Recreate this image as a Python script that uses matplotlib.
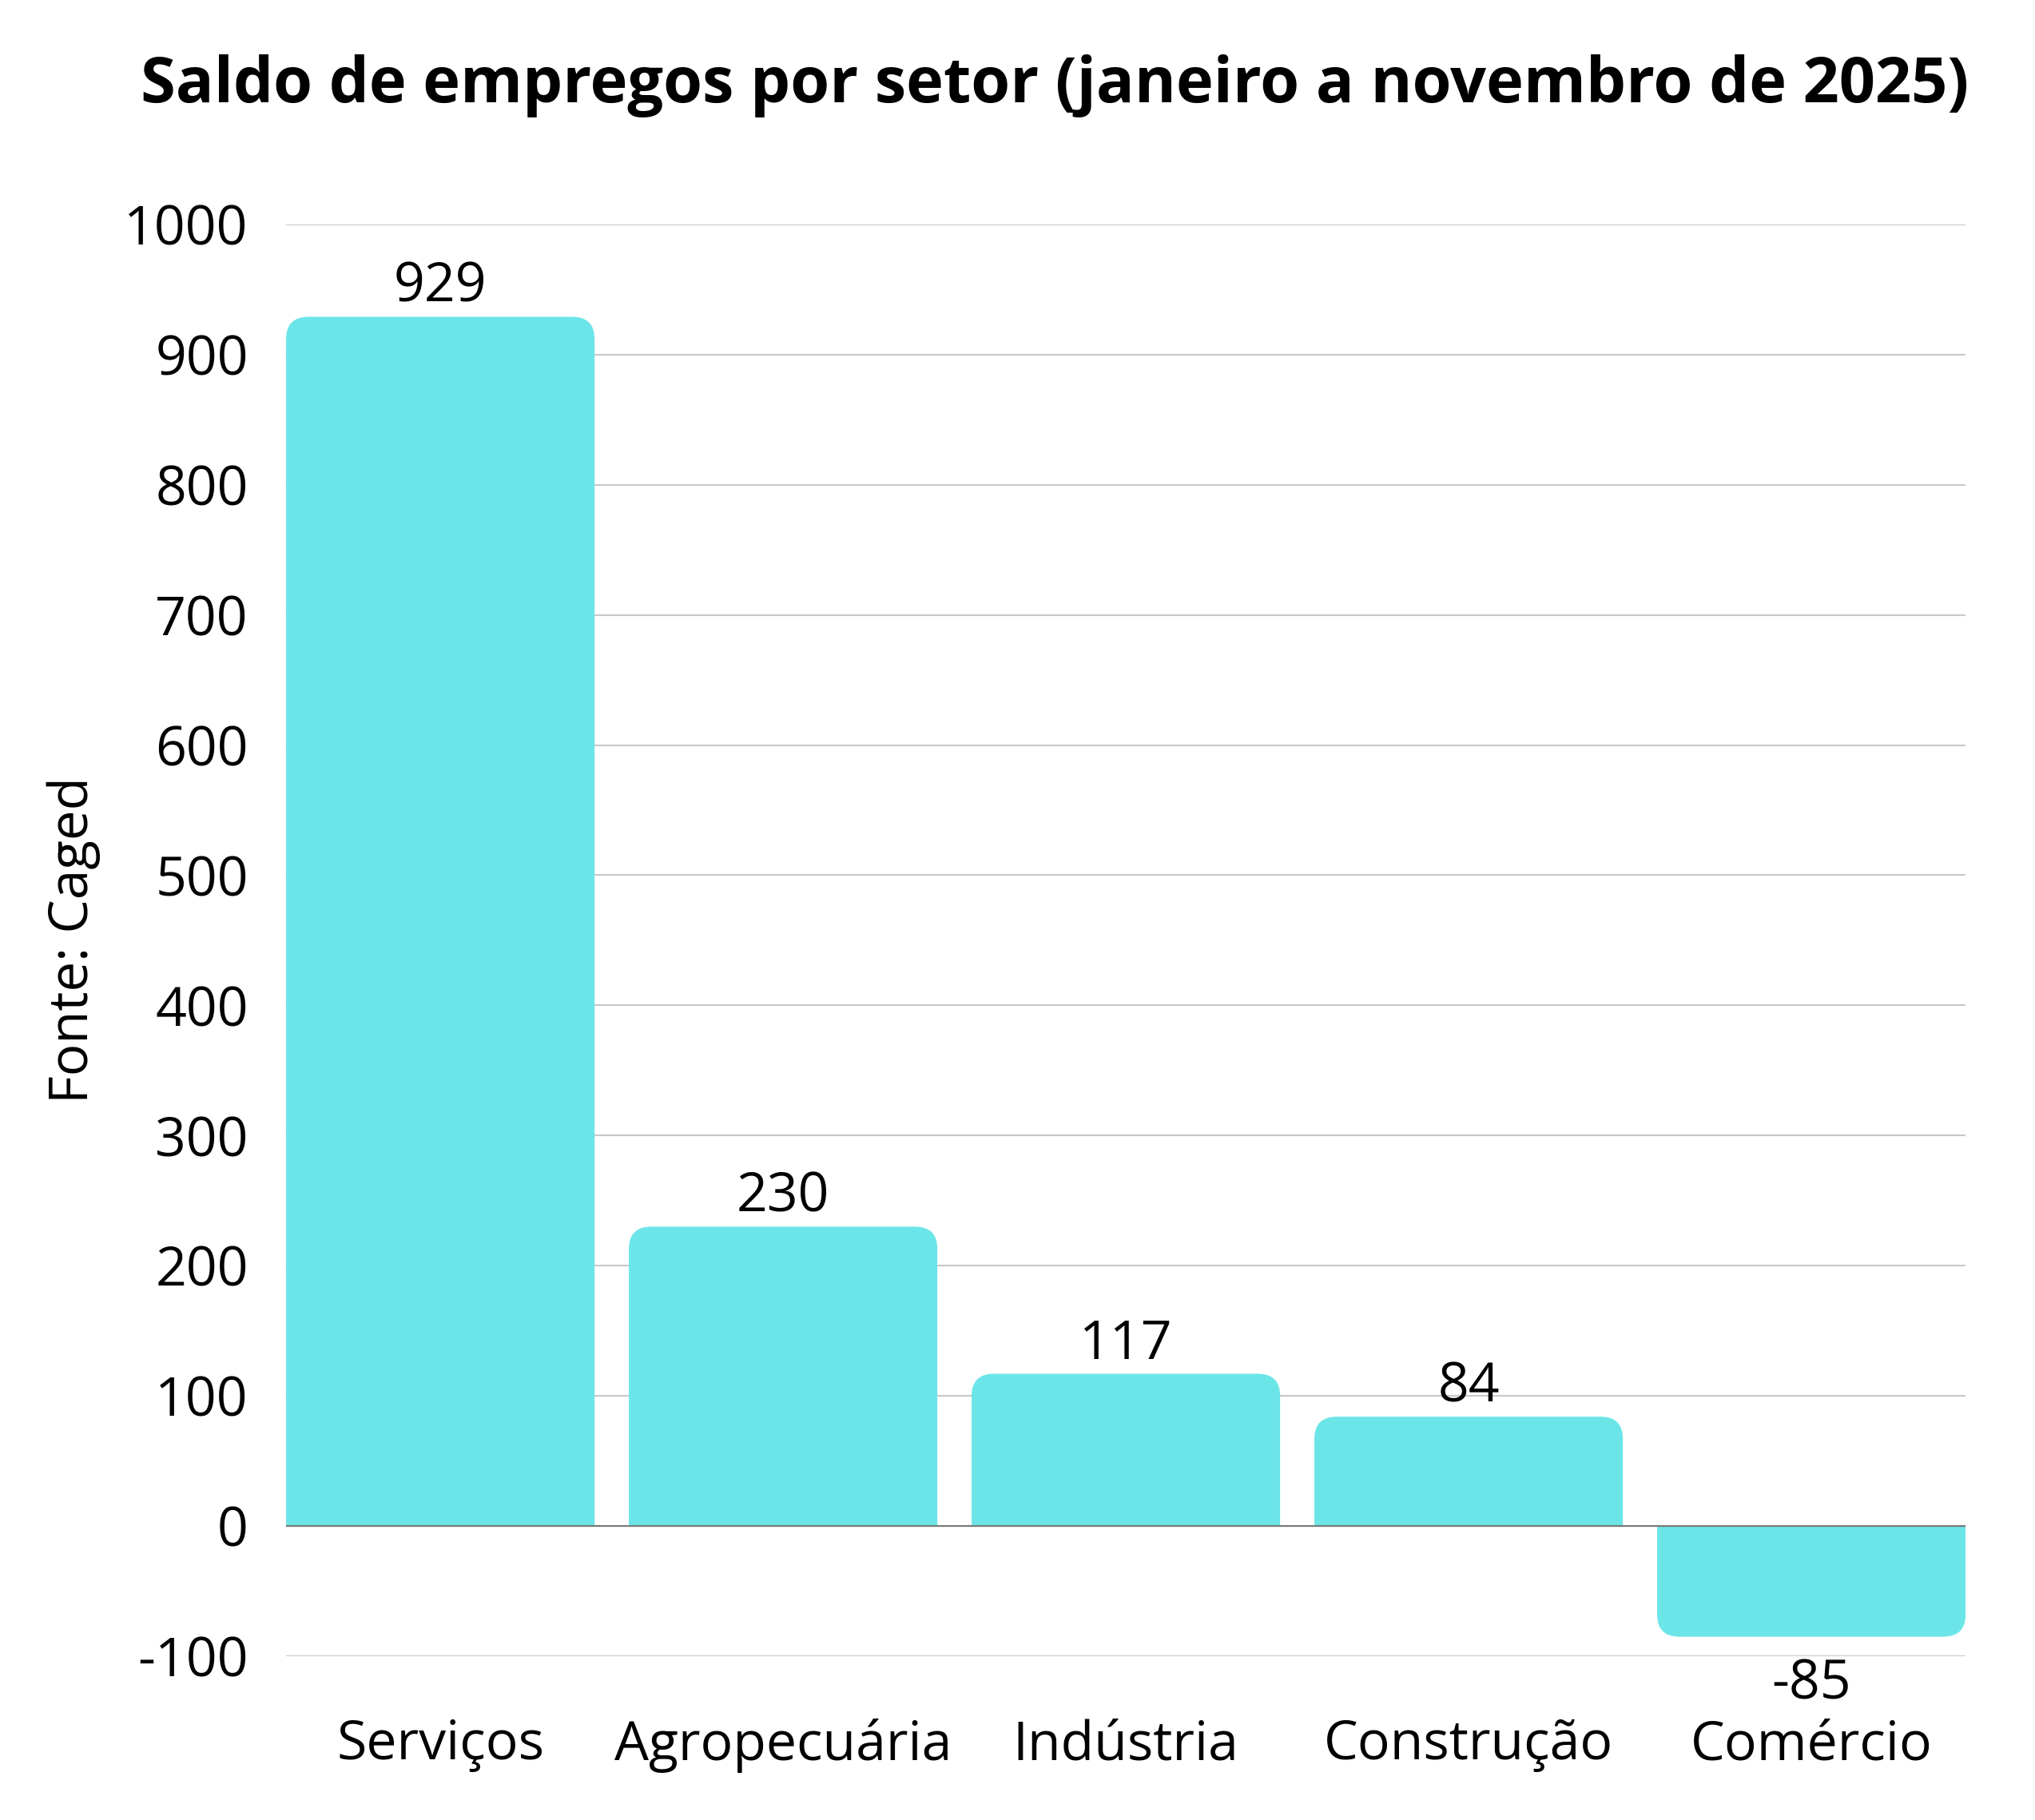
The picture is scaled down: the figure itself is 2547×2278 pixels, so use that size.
import numpy as np
import matplotlib
matplotlib.use("Agg")
import matplotlib.pyplot as plt
from matplotlib.path import Path
from matplotlib.patches import PathPatch

plt.rcParams['font.family'] = ['Open Sans', 'DejaVu Sans']
plt.rcParams['axes.unicode_minus'] = False

# Data
setores = ['Serviços', 'Agropecuária', 'Indústria', 'Construção', 'Comércio']
saldo = [929, 230, 117, 84, -85]
y_ticks = [-100, 0, 100, 200, 300, 400, 500, 600, 700, 800, 900, 1000]

BarColour = '#6ce5e8'
BarWidth = 0.9

fig = plt.figure(figsize=(25.47, 22.78), dpi=100)
ax = fig.add_axes([0.1406, 0.0900, 0.8253, 0.7867])

ax.set_xlim(-0.45, len(setores) - 0.55)
ax.set_ylim(-100, 1000)


# bar with rounded corners at its far end (top for positive, bottom for negative)
def rounded_bar(ax, xc, h, w, rx, ry):
    x0 = xc - w / 2
    x1 = xc + w / 2
    s = 1 if h >= 0 else -1
    verts = [(x0, 0), (x0, h - s * ry), (x0, h), (x0 + rx, h),
             (x1 - rx, h), (x1, h), (x1, h - s * ry), (x1, 0), (x0, 0)]
    codes = [Path.MOVETO, Path.LINETO, Path.CURVE3, Path.CURVE3,
             Path.LINETO, Path.CURVE3, Path.CURVE3, Path.LINETO, Path.CLOSEPOLY]
    patch = PathPatch(Path(verts, codes), facecolor=BarColour, edgecolor='none', zorder=2)
    ax.add_patch(patch)


for i, v in enumerate(saldo):
    rounded_bar(ax, i, v, BarWidth, 0.065, 17)
    if v >= 0:
        ax.annotate(str(v), (i, v), xytext=(0, 13.5), textcoords='offset points',
                    ha='center', va='baseline', fontsize=49, color='black')
    else:
        ax.annotate(str(v), (i, v), xytext=(0, -56), textcoords='offset points',
                    ha='center', va='baseline', fontsize=49, color='black')

# grid and zero line
for t in y_ticks:
    if t == 0:
        ax.axhline(0, color='#7a7a7a', linewidth=1.6, zorder=3)
    else:
        ax.axhline(t, color='#c8c8c8', linewidth=1.5, zorder=1)

ax.set_yticks(y_ticks)
ax.set_yticklabels([str(t) for t in y_ticks])
ax.set_xticks(range(len(setores)))
ax.set_xticklabels(setores)
ax.tick_params(axis='y', length=0, pad=34, labelsize=49)
ax.tick_params(axis='x', length=0, pad=56, labelsize=49)

for s in ax.spines.values():
    s.set_visible(False)

ax.set_ylabel('Fonte: Caged', fontsize=48.5, labelpad=21)

fig.text(176 / 2547, 1 - 128 / 2278, 'Saldo de empregos por setor (janeiro a novembro de 2025)',
         ha='left', va='baseline', fontsize=57.1, fontweight='bold')

fig.savefig('out.png', dpi=100, facecolor='white')
